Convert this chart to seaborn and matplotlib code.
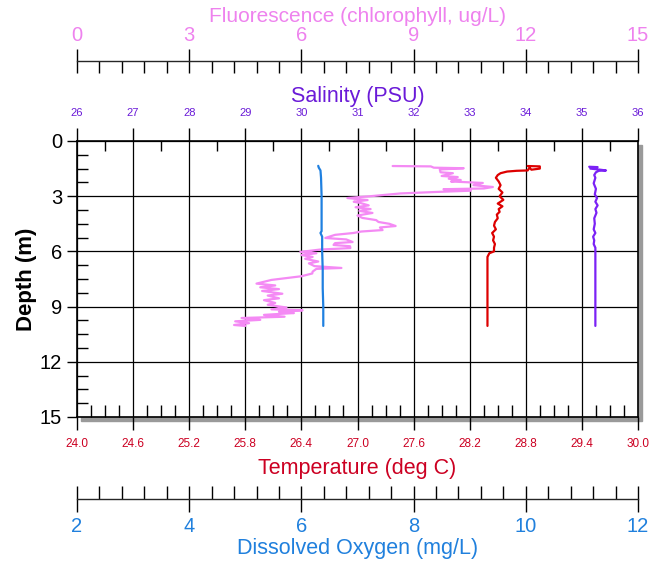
import pandas as pd
import seaborn as sns
import matplotlib.pyplot as plt
from matplotlib.ticker import MultipleLocator, FormatStrFormatter
from matplotlib.patches import Rectangle

# ---- perfil CTD: profundidad (m) y variables ----
do_depth = [1.35, 1.45, 1.6, 2.0, 3.0, 4.0, 4.9, 5.0, 5.2, 6.0, 7.0, 8.0, 9.0, 10.05]
do_val = [6.30, 6.31, 6.34, 6.35, 6.36, 6.36, 6.36, 6.34, 6.37, 6.37, 6.38, 6.38, 6.39, 6.39]

sal_depth = [1.40, 1.42, 1.50, 1.55, 1.60, 1.62, 1.70, 1.85, 2.0, 2.3, 2.6, 2.9, 3.1, 3.3, 3.5,
             3.7, 3.9, 4.2, 4.5, 4.8, 5.0, 5.2, 5.4, 5.6, 5.8, 6.0, 7.0, 8.0, 9.0, 10.05]
sal_val = [35.13, 35.28, 35.15, 35.30, 35.43, 35.30, 35.25, 35.22, 35.24, 35.21, 35.25, 35.23,
           35.27, 35.24, 35.28, 35.24, 35.26, 35.22, 35.23, 35.21, 35.24, 35.20, 35.22, 35.21,
           35.24, 35.24, 35.24, 35.24, 35.24, 35.24]

temp_depth = [1.36, 1.38, 1.50, 1.56, 1.45, 1.60, 1.62, 1.66, 1.75, 1.85, 2.0, 2.2, 2.4, 2.6,
              2.8, 3.0, 3.2, 3.4, 3.55, 3.7, 3.85, 4.0, 4.2, 4.4, 4.6, 4.8, 5.0, 5.2, 5.4,
              5.6, 5.8, 6.0, 6.1, 6.3, 7.0, 8.5, 10.05]
temp_val = [28.82, 28.95, 28.95, 28.86, 28.84, 28.82, 28.70, 28.60, 28.53, 28.50, 28.48, 28.51,
            28.53, 28.51, 28.55, 28.52, 28.56, 28.50, 28.55, 28.51, 28.52, 28.49, 28.50, 28.47,
            28.46, 28.48, 28.44, 28.46, 28.45, 28.47, 28.46, 28.46, 28.41, 28.39, 28.39, 28.39,
            28.39]

fl_depth = [1.36, 1.38, 1.45, 1.48, 1.55, 1.70, 1.75, 1.90, 1.96, 2.05, 2.12, 2.20, 2.28, 2.40,
            2.50, 2.58, 2.62, 2.70, 2.77, 2.85, 3.00, 3.10, 3.21, 3.30, 3.37, 3.50, 3.60, 3.70,
            3.80, 3.91, 4.05, 4.18, 4.30, 4.40, 4.50, 4.62, 4.70, 4.84, 4.92, 5.00, 5.10, 5.27,
            5.35, 5.49, 5.55, 5.65, 5.72, 5.82, 5.90, 6.03, 6.10, 6.20, 6.30, 6.40, 6.55, 6.65,
            6.80, 6.90, 6.95, 7.10, 7.20, 7.35, 7.45, 7.55, 7.66, 7.75, 7.85, 7.95, 8.05, 8.15,
            8.30, 8.40, 8.55, 8.65, 8.80, 8.90, 9.05, 9.15, 9.20, 9.28, 9.35, 9.45, 9.55, 9.62,
            9.72, 9.80, 9.90, 10.00, 10.05]
fl_val = [8.44, 9.46, 9.54, 10.34, 9.70, 9.72, 10.05, 9.75, 10.18, 9.94, 10.26, 10.00, 10.85, 10.60,
          11.12, 10.88, 9.80, 10.53, 9.60, 8.65, 7.85, 7.23, 7.77, 7.40, 7.58, 7.80, 7.45, 7.85,
          7.55, 7.90, 7.50, 7.63, 8.00, 8.06, 8.35, 8.52, 8.10, 8.17, 7.60, 7.39, 6.90, 6.64,
          7.20, 7.37, 6.90, 6.86, 7.30, 7.31, 6.50, 5.97, 6.40, 6.00, 6.30, 6.10, 6.45, 6.20,
          6.35, 7.07, 6.40, 6.30, 6.29, 6.00, 5.60, 5.20, 4.98, 4.80, 5.30, 4.90, 5.40, 4.95,
          5.49, 5.10, 5.40, 5.00, 5.30, 5.10, 5.60, 5.20, 6.03, 5.40, 5.80, 5.00, 5.55, 4.40,
          4.90, 4.23, 4.60, 4.20, 4.50]

# colores
c_fl_line, c_fl_txt = "#F48AF4", "#EE82EE"
c_sal_line, c_sal_txt = "#7B22F5", "#6A1AD8"
c_t_line, c_t_txt = "#DD0000", "#CC0022"
c_do_line, c_do_txt = "#1F80E0", "#2080DD"

do_df = pd.DataFrame({"Profundidad": do_depth, "OD": do_val})
sal_df = pd.DataFrame({"Profundidad": sal_depth, "Salinidad": sal_val})
t_df = pd.DataFrame({"Profundidad": temp_depth, "Temperatura": temp_val})
fl_df = pd.DataFrame({"Profundidad": fl_depth, "Fluorescencia": fl_val})

sns.set_theme(style="ticks")
plt.rcParams['font.family'] = ['Liberation Sans', 'DejaVu Sans']

fig = plt.figure(figsize=(6.62, 5.66), dpi=100)
L, B = 77 / 662, (566 - 417) / 566
W, H = (638 - 77) / 662, (417 - 141) / 566
ax = fig.add_axes([L, B, W, H])
ax.set_facecolor("white")
# sombra gris del marco
fig.add_artist(Rectangle((L + 4 / 662, B - 4 / 566), W, H, transform=fig.transFigure,
                         color="#9a9a9a", zorder=-1))

# ---- eje principal: temperatura vs profundidad ----
sns.lineplot(data=t_df, x="Temperatura", y="Profundidad", sort=False, estimator=None,
             color=c_t_line, lw=1.6, ax=ax)
ax.set_xlim(24, 30)
ax.set_ylim(15, 0)
ax.xaxis.set_major_locator(MultipleLocator(0.6))
ax.xaxis.set_minor_locator(MultipleLocator(0.15))
ax.xaxis.set_major_formatter(FormatStrFormatter('%.1f'))
ax.yaxis.set_major_locator(MultipleLocator(3))
ax.yaxis.set_minor_locator(MultipleLocator(0.75))
ax.grid(which='major', color='black', lw=0.9)
ax.set_axisbelow(True)
for s in ax.spines.values():
    s.set_color('black')
    s.set_linewidth(1.2)
ax.tick_params(axis='x', which='major', direction='out', length=9.4, width=1, color='black',
               labelsize=8.5, labelcolor=c_t_txt, pad=5.5, bottom=True, top=False)
ax.tick_params(axis='x', which='minor', direction='in', length=8.6, width=1, color='black',
               bottom=True, top=False)
ax.tick_params(axis='y', which='major', direction='out', length=7.2, width=1, color='black',
               labelsize=14.5, labelcolor='black', pad=3.5, left=True, right=False)
ax.tick_params(axis='y', which='minor', direction='in', length=8, width=1, color='black',
               left=True, right=False)
ax.set_xlabel("Temperature (deg C)", color=c_t_txt, fontsize=15.5, labelpad=6)

# ---- salinidad (eje superior) ----
ax_s = ax.twiny()
sns.lineplot(data=sal_df, x="Salinidad", y="Profundidad", sort=False, estimator=None,
             color=c_sal_line, lw=1.6, ax=ax_s)
ax_s.set_xlim(26, 36)
ax_s.xaxis.set_major_locator(MultipleLocator(1))
ax_s.xaxis.set_minor_locator(MultipleLocator(0.5))
ax_s.tick_params(axis='x', which='major', direction='out', length=9.4, width=1, color='black',
                 labelsize=8, labelcolor=c_sal_txt, pad=7.5, top=True, bottom=False)
ax_s.tick_params(axis='x', which='minor', direction='in', length=7.2, width=1, color='black',
                 top=True, bottom=False)
ax_s.set_xlabel("Salinity (PSU)", color=c_sal_txt, fontsize=15.5, labelpad=4)
for s in ax_s.spines.values():
    s.set_visible(False)

# ---- fluorescencia (eje superior desplazado) ----
ax_f = ax.twiny()
sns.lineplot(data=fl_df, x="Fluorescencia", y="Profundidad", sort=False, estimator=None,
             color=c_fl_line, lw=1.6, ax=ax_f)
ax_f.set_xlim(0, 15)
for k, s in ax_f.spines.items():
    s.set_visible(k == 'top')
ax_f.spines['top'].set_position(('outward', 57.6))
ax_f.spines['top'].set_linewidth(1)
ax_f.xaxis.set_major_locator(MultipleLocator(3))
ax_f.xaxis.set_minor_locator(MultipleLocator(0.6))
ax_f.tick_params(axis='x', which='major', direction='inout', length=17.3, width=1, color='black',
                 labelsize=14.5, labelcolor=c_fl_txt, pad=3, top=True, bottom=False)
ax_f.tick_params(axis='x', which='minor', direction='in', length=8.6, width=1, color='black',
                 top=True, bottom=False)
ax_f.set_xlabel("Fluorescence (chlorophyll, ug/L)", color=c_fl_txt, fontsize=15, labelpad=3)

# ---- oxigeno disuelto (eje inferior desplazado) ----
ax_d = ax.twiny()
sns.lineplot(data=do_df, x="OD", y="Profundidad", sort=False, estimator=None,
             color=c_do_line, lw=1.6, ax=ax_d)
ax_d.set_xlim(2, 12)
ax_d.xaxis.set_ticks_position('bottom')
ax_d.xaxis.set_label_position('bottom')
for k, s in ax_d.spines.items():
    s.set_visible(k == 'bottom')
ax_d.spines['bottom'].set_position(('outward', 59))
ax_d.spines['bottom'].set_linewidth(1)
ax_d.xaxis.set_major_locator(MultipleLocator(2))
ax_d.xaxis.set_minor_locator(MultipleLocator(0.4))
ax_d.tick_params(axis='x', which='major', direction='inout', length=18.7, width=1, color='black',
                 labelsize=14.5, labelcolor=c_do_txt, pad=4, top=False, bottom=True)
ax_d.tick_params(axis='x', which='minor', direction='in', length=9.4, width=1, color='black',
                 top=False, bottom=True)
ax_d.set_xlabel("Dissolved Oxygen (mg/L)", color=c_do_txt, fontsize=15.5, labelpad=1)

# los ejes gemelos comparten la profundidad: sin marcas ni etiquetas propias
for a in (ax_s, ax_f, ax_d):
    a.set_ylabel("")
    a.tick_params(axis='y', which='both', left=False, right=False,
                  labelleft=False, labelright=False)
    a.patch.set_visible(False)

ax.set_ylim(15, 0)
ax.set_ylabel("Depth (m)", fontsize=16, fontweight='bold', color='black', labelpad=2)

fig.savefig("out.png", dpi=100)
